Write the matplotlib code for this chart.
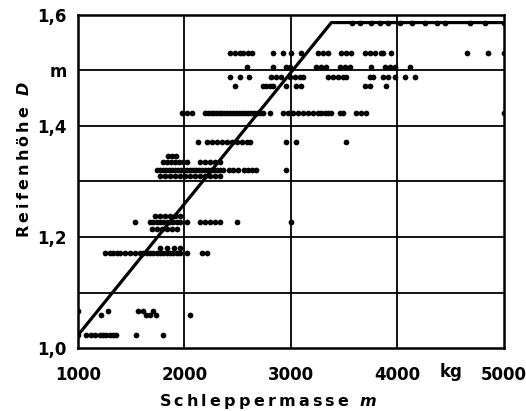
import matplotlib.pyplot as plt

# Schleppermasse (kg) je Reifenhöhe D (m)
m_1586 = [3573, 3648, 3751, 3836, 3911, 4024, 4136, 4258, 4371, 4446, 4681, 4822, 5000]
m_1532 = [2427, 2474, 2521, 2549, 2596, 2634, 2831, 2925, 3000, 3094, 3254, 3301,
          3348, 3470, 3517, 3564, 3695, 3742, 3789, 3845, 3864, 3939, 4653, 4850, 5000]
m_1506 = [2587, 2831, 2953, 2991, 3235, 3282, 3329, 3460, 3507, 3554, 3751, 3883,
          3930, 3977, 4117]
m_1488 = [2427, 2521, 2606, 2812, 2859, 2906, 2991, 3038, 3085, 3113, 3348, 3395,
          3442, 3488, 3517, 3742, 3770, 3864, 3911, 3977, 4070, 4164]
m_1472 = [2474, 2737, 2765, 2803, 2831, 2953, 3047, 3094, 3695, 3742, 3892]
m_1423 = [1977, 2024, 2071, 2193, 2221, 2249, 2268, 2296, 2324, 2343, 2371, 2399,
          2427, 2455, 2483, 2512, 2540, 2568, 2596, 2624, 2653, 2681, 2709, 2737,
          2803, 2925, 2972, 3019, 3066, 3113, 3160, 3207, 3254, 3282, 3319, 3348,
          3376, 3460, 3488, 3611, 3657, 3704, 5000]
m_1371 = [2127, 2211, 2258, 2305, 2352, 2399, 2446, 2493, 2540, 2587, 2615, 2953,
          3047, 3517]
m_1345 = [1845, 1883, 1920]
m_1335 = [1798, 1836, 1873, 1911, 1948, 1986, 2024, 2146, 2193, 2240, 2287, 2333]
m_1320 = [1742, 1770, 1798, 1826, 1854, 1883, 1911, 1939, 1967, 1995, 2024, 2052,
          2080, 2108, 2136, 2164, 2193, 2221, 2249, 2277, 2305, 2333, 2362, 2418,
          2455, 2502, 2559, 2596, 2634, 2671, 2953]
m_1310 = [1770, 1817, 1864, 1911, 1958, 2005, 2052, 2099, 2146, 2193, 2240, 2287, 2333]
m_1238 = [1723, 1770, 1817, 1864, 1911, 1958]
m_1227 = [1535, 1676, 1704, 1742, 1770, 1798, 1836, 1864, 1892, 1930, 1958, 2024,
          2146, 2193, 2240, 2287, 2333, 2493, 3000]
m_1215 = [1695, 1742, 1789, 1836, 1883, 1930]
m_1180 = [1770, 1836, 1901, 1958]
m_1171 = [1254, 1300, 1329, 1366, 1394, 1441, 1488, 1535, 1582, 1610, 1648, 1676,
          1704, 1742, 1770, 1798, 1836, 1864, 1892, 1930, 1958, 2024, 2164, 2211]
m_1067 = [1000, 1282, 1563, 1610, 1704]
m_1060 = [1216, 1638, 1676, 1732, 2052]
m_1023 = [1000, 1075, 1122, 1160, 1207, 1235, 1263, 1300, 1329, 1357, 1545, 1798]

baender = [(m_1586, 1.586), (m_1532, 1.532), (m_1506, 1.506), (m_1488, 1.488),
           (m_1472, 1.472), (m_1423, 1.423), (m_1371, 1.371), (m_1345, 1.345),
           (m_1335, 1.335), (m_1320, 1.320), (m_1310, 1.310), (m_1238, 1.238),
           (m_1227, 1.227), (m_1215, 1.215), (m_1180, 1.180), (m_1171, 1.171),
           (m_1067, 1.067), (m_1060, 1.060), (m_1023, 1.023)]

# Ausgleichsgerade mit Knick
linie_m = [1000, 3380, 5000]
linie_D = [1.023, 1.586, 1.586]

x_ticks = [1000, 2000, 3000, 4000, 5000]
x_labels = ['1000', '2000', '3000', '4000', '5000']
y_ticks = [1.0, 1.2, 1.4, 1.5, 1.6]
y_labels = ['1,0', '1,2', '1,4', 'm', '1,6']

fnt = dict(family='DejaVu Sans', weight='bold')
ts = '\u2009'  # gesperrt setzen

fig = plt.figure(figsize=(5.26, 4.11), dpi=100)
ax = fig.add_axes([0.148, 0.153, 0.810, 0.811])

for m, D in baender:
    ax.scatter(m, [D] * len(m), s=17, color='black', zorder=3, linewidths=0)

ax.plot(linie_m, linie_D, color='black', lw=2.3, zorder=4, solid_capstyle='butt')

ax.set_xlim(1000, 5000)
ax.set_ylim(1.0, 1.6)
for gx in [2000, 3000, 4000]:
    ax.axvline(gx, color='black', lw=1.3, zorder=1)
for gy in [1.1, 1.2, 1.3, 1.4, 1.5]:
    ax.axhline(gy, color='black', lw=1.3, zorder=1)
for sp in ax.spines.values():
    sp.set_linewidth(1.8)

ax.set_xticks(x_ticks)
ax.set_xticklabels(x_labels, fontsize=12, **fnt)
ax.set_yticks(y_ticks)
ax.set_yticklabels(y_labels, fontsize=12, **fnt)
ax.tick_params(length=0)
ax.tick_params(axis='x', pad=13)
ax.tick_params(axis='y', pad=8)
ax.text(4500, -0.072, 'kg', transform=ax.get_xaxis_transform(),
        ha='center', va='center', fontsize=12, **fnt)

ax.set_xlabel(ts.join('Schleppermasse') + r'  $\mathbfit{m}$', fontsize=11.5, **fnt)
ax.set_ylabel(ts.join('Reifenhöhe') + r'  $\mathbfit{D}$', fontsize=11.5, **fnt)
ax.xaxis.set_label_coords(0.446, -0.133)
ax.yaxis.set_label_coords(-0.108, 0.565)

fig.savefig('out.png', dpi=100)
